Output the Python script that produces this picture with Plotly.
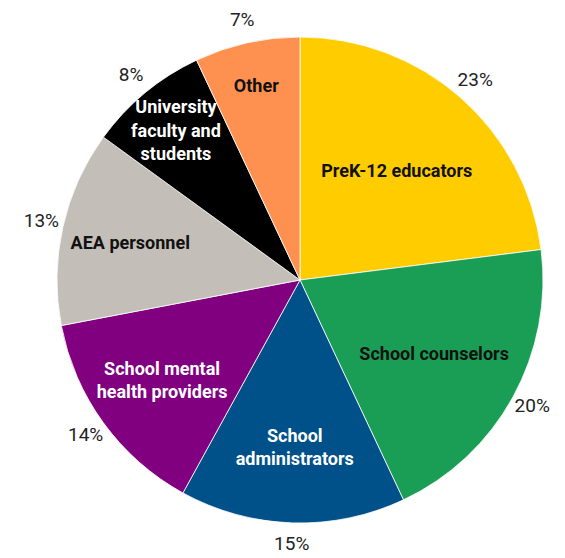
import numpy as np
import plotly.graph_objects as go

categories = ["PreK-12 educators", "School counselors", "School administrators",
              "School mental health providers", "AEA personnel",
              "University faculty and students", "Other"]
label_text = ["PreK-12 educators", "School counselors", "School<br>administrators",
              "School mental<br>health providers", "AEA personnel",
              "University<br>faculty and<br>students", "Other"]
values = [23, 20, 15, 14, 13, 8, 7]
colors = ["#FFCC00", "#1A9E55", "#00508A", "#800080", "#C4BEB8", "#000000", "#FF9150"]
label_colors = ["#111111", "#111111", "#FFFFFF", "#FFFFFF", "#111111", "#FFFFFF", "#111111"]

pct_text = [f"{v}%" for v in values]

# figure geometry (page body adds an 8px offset)
W, H = 565, 558
cx, cy = 292, 272          # pie centre in figure px (from top-left)
R = 243                    # pie radius
R_out = min(W - cx, cx, cy, H - cy)   # polar overlay radius

pie_domain = dict(x=[(cx - R) / W, (cx + R) / W],
                  y=[(H - cy - R) / H, (H - cy + R) / H])
polar_domain = dict(x=[(cx - R_out) / W, (cx + R_out) / W],
                    y=[(H - cy - R_out) / H, (H - cy + R_out) / H])

vals = np.array(values, dtype=float)
mid_frac = (np.cumsum(vals) - vals / 2) / vals.sum()
theta = mid_frac * 360
label_r = 265 / R

fig = go.Figure()
fig.add_trace(go.Pie(
    labels=categories, values=values, sort=False, direction="clockwise", rotation=0,
    text=label_text, textinfo="text", textposition="inside",
    insidetextorientation="horizontal",
    marker=dict(colors=colors, line=dict(color="#FFFFFF", width=0.8)),
    insidetextfont=dict(family="Roboto", size=18, color=label_colors, weight="bold"),
    hoverinfo="skip", showlegend=False, domain=pie_domain,
))
fig.add_trace(go.Scatterpolar(
    r=[label_r] * len(values), theta=theta, mode="text", text=pct_text,
    textposition="middle center",
    textfont=dict(family="Roboto", size=19, color="#222222"),
    hoverinfo="skip", showlegend=False, cliponaxis=False,
))
fig.update_layout(
    width=W, height=H,
    margin=dict(l=0, r=0, t=0, b=0),
    paper_bgcolor="white", plot_bgcolor="white",
    uniformtext=dict(minsize=18, mode="show"),
    polar=dict(
        domain=polar_domain, bgcolor="rgba(0,0,0,0)",
        radialaxis=dict(range=[0, R_out / R], visible=False, showgrid=False),
        angularaxis=dict(rotation=90, direction="clockwise", visible=False,
                         showgrid=False, showline=False, showticklabels=False),
    ),
)
fig.write_html("out.html")
